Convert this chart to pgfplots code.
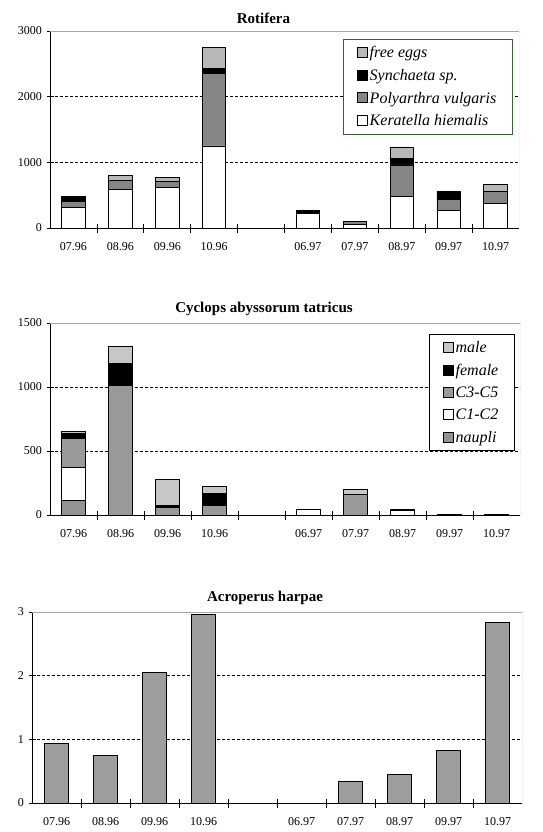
\documentclass[border=0pt]{standalone}
\usepackage{pgfplots}
\pgfplotsset{compat=1.18}
\usepackage{fontspec}
\setmainfont{Liberation Serif}
\definecolor{legendgreen}{rgb}{0.22,0.38,0.22}
\begin{document}
\begin{tikzpicture}[x=1pt,y=1pt]
\useasboundingbox (0pt,0pt) rectangle (543pt,-832pt);
\pgfplotsset{
 panel/.style={
  scale only axis,
  xmin=-0.5, xmax=9.5,
  ymin=0,
  axis lines=left,
  axis line style={-, line width=1pt, black},
  xtick={0,1,2,3,5,6,7,8,9},
  xticklabels={07.96,08.96,09.96,10.96,06.97,07.97,08.97,09.97,10.97},
  major x tick style={draw=none},
  minor xtick={0.5,1.5,...,8.5},
  minor tick length=9pt,
  major tick length=7pt,
  tick align=center,
  tick style={black, line width=0.8pt},
  ymajorgrids,
  grid style={dash pattern=on 3pt off 2pt, black, line width=0.9pt},
  tick label style={font=\fontsize{12}{14}\selectfont},
  /pgf/number format/assume math mode=true,
  scaled y ticks=false,
  xticklabel style={yshift=-7pt},
  yticklabel style={xshift=-1pt},
  title style={font=\bfseries\fontsize{15}{18}\selectfont, xshift=-21pt, yshift=-2pt},
  bar width=0.5,
  ybar stacked,
  reverse legend,
  area legend,
  legend cell align=left,
  legend image code/.code={\draw[#1, line width=0.6pt] (0pt,-4.5pt) rectangle (10pt,5.5pt);},
  legend style={font=\itshape\fontsize{16}{19}\selectfont, fill=white,
     line width=1pt, inner xsep=14pt, inner ysep=5pt, row sep=6pt},
 },
 barstyle/.style={draw=black, line width=0.8pt},
}
% ---------- Rotifera ----------
\begin{axis}[panel,
  at={(50pt,-228pt)}, anchor=south west,
  width=469pt, height=197pt,
  ymax=3000, ytick={0,1000,2000,3000}, yticklabels={0,1000,2000,3000},
  title={Rotifera},
  legend style={at={(0.987,0.959)}, anchor=north east, draw=legendgreen},
]
\addplot[barstyle, fill=white] coordinates {(0,310) (1,590) (2,620) (3,1250) (5,220) (6,60) (7,480) (8,270) (9,370)};
\addlegendentry{Keratella hiemalis}
\addplot[barstyle, fill=black!48] coordinates {(0,90) (1,140) (2,85) (3,1110) (5,0) (6,40) (7,480) (8,160) (9,180)};
\addlegendentry{Polyarthra vulgaris}
\addplot[barstyle, fill=black] coordinates {(0,75) (1,0) (2,0) (3,70) (5,50) (6,0) (7,100) (8,130) (9,0)};
\addlegendentry{Synchaeta sp.}
\addplot[barstyle, fill=black!28] coordinates {(0,5) (1,65) (2,60) (3,315) (5,5) (6,0) (7,175) (8,5) (9,110)};
\addlegendentry{free eggs}
\draw[gray!70, line width=1pt] (rel axis cs:0,1) -- (rel axis cs:1,1) -- (rel axis cs:1,0);
\end{axis}
% ---------- Cyclops ----------
\begin{axis}[panel,
  at={(50pt,-515pt)}, anchor=south west,
  width=470pt, height=192pt,
  ymax=1500, ytick={0,500,1000,1500}, yticklabels={0,500,1000,1500},
  title={Cyclops abyssorum tatricus},
  legend style={at={(0.989,0.943)}, anchor=north east, draw=black},
]
\addplot[barstyle, fill=black!42] coordinates {(0,115) (1,0) (2,0) (3,0) (5,0) (6,0) (7,0) (8,0) (9,0)};
\addlegendentry{naupli}
\addplot[barstyle, fill=white] coordinates {(0,255) (1,0) (2,0) (3,0) (5,40) (6,0) (7,35) (8,0) (9,0)};
\addlegendentry{C1-C2}
\addplot[barstyle, fill=black!40] coordinates {(0,230) (1,1015) (2,60) (3,75) (5,0) (6,160) (7,5) (8,5) (9,5)};
\addlegendentry{C3-C5}
\addplot[barstyle, fill=black] coordinates {(0,40) (1,170) (2,15) (3,90) (5,0) (6,0) (7,0) (8,0) (9,0)};
\addlegendentry{female}
\addplot[barstyle, fill=black!22] coordinates {(0,10) (1,130) (2,205) (3,55) (5,5) (6,40) (7,0) (8,0) (9,0)};
\addlegendentry{male}
\draw[gray!70, line width=1pt] (rel axis cs:0,1) -- (rel axis cs:1,1) -- (rel axis cs:1,0);
\end{axis}
% ---------- Acroperus ----------
\begin{axis}[panel,
  at={(32pt,-803pt)}, anchor=south west,
  width=490pt, height=191pt,
  ymax=3, ytick={0,1,2,3}, yticklabels={0,1,2,3},
  title={Acroperus harpae},
  title style={xshift=9pt},
]
\addplot[barstyle, fill=black!38] coordinates {(0,0.94) (1,0.74) (2,2.05) (3,2.96) (6,0.34) (7,0.45) (8,0.83) (9,2.83)};
\draw[gray!70, line width=1pt] (rel axis cs:0,1) -- (rel axis cs:1,1) -- (rel axis cs:1,0);
\end{axis}
\end{tikzpicture}
\end{document}
